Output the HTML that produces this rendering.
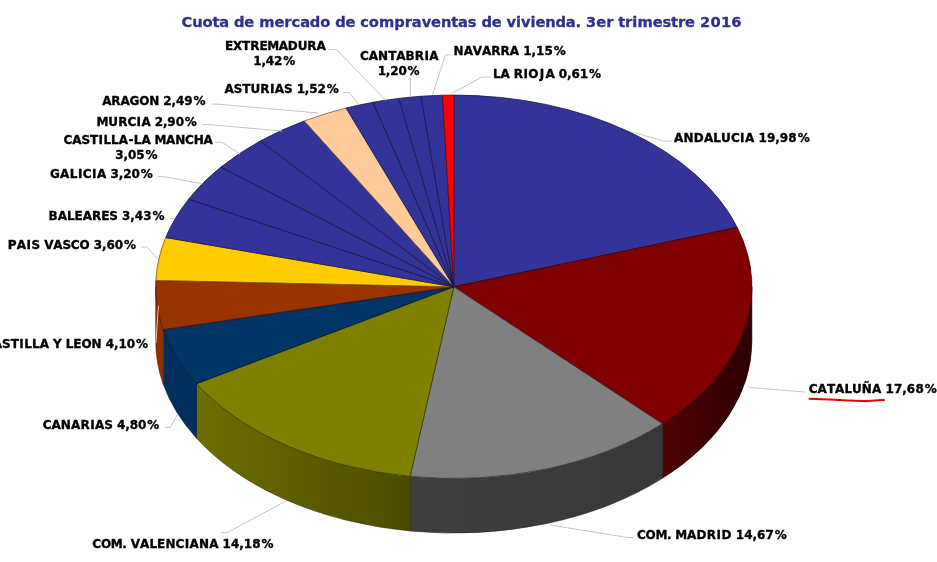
<!DOCTYPE html>
<html lang="es"><head><meta charset="utf-8"><title>Cuota de mercado de compraventas de vivienda</title>
<style>
html,body{margin:0;padding:0;background:#fff;}
body{width:937px;height:562px;overflow:hidden;}
svg{display:block;}
svg text{font-family:"DejaVu Sans","Liberation Sans",sans-serif;font-weight:bold;font-size:12px;fill:#000;stroke:#000;stroke-width:0.35px;}
svg text.ttl{font-size:14.67px;fill:#2f2f92;stroke:#2f2f92;stroke-width:0.3px;}
</style></head><body>
<svg width="937" height="562" viewBox="0 0 937 562">
<defs>
<linearGradient id="g1" gradientUnits="userSpaceOnUse" x1="662.4" y1="0" x2="751.9" y2="0"><stop offset="0" stop-color="#500000"/><stop offset="1" stop-color="#2c0000"/></linearGradient>
<linearGradient id="g2" gradientUnits="userSpaceOnUse" x1="410.1" y1="0" x2="662.4" y2="0"><stop offset="0" stop-color="#3f3f3f"/><stop offset="1" stop-color="#383838"/></linearGradient>
<linearGradient id="g3" gradientUnits="userSpaceOnUse" x1="196.5" y1="0" x2="410.1" y2="0"><stop offset="0" stop-color="#6e6e00"/><stop offset="1" stop-color="#4b4b00"/></linearGradient>
<linearGradient id="g4" gradientUnits="userSpaceOnUse" x1="163.3" y1="0" x2="196.5" y2="0"><stop offset="0" stop-color="#002f5c"/><stop offset="1" stop-color="#00305f"/></linearGradient>
<linearGradient id="g5" gradientUnits="userSpaceOnUse" x1="155.7" y1="0" x2="163.3" y2="0"><stop offset="0" stop-color="#8c2f00"/><stop offset="1" stop-color="#8f3000"/></linearGradient>
</defs>
<rect width="937" height="562" fill="#fff"/>
<path d="M751.90,286.80 A298.1,191.7 0 0 1 662.36,423.77 L662.36,478.37 A298.1,191.7 0 0 0 751.90,341.40 Z" fill="url(#g1)" stroke="#1e0000" stroke-width="0.6" stroke-linejoin="round"/>
<path d="M662.36,423.77 A298.1,191.7 0 0 1 410.09,476.43 L410.09,531.03 A298.1,191.7 0 0 0 662.36,478.37 Z" fill="url(#g2)" stroke="#272727" stroke-width="0.6" stroke-linejoin="round"/>
<path d="M410.09,476.43 A298.1,191.7 0 0 1 196.52,383.63 L196.52,438.23 A298.1,191.7 0 0 0 410.09,531.03 Z" fill="url(#g3)" stroke="#343400" stroke-width="0.6" stroke-linejoin="round"/>
<path d="M196.52,383.63 A298.1,191.7 0 0 1 163.25,329.68 L163.25,384.28 A298.1,191.7 0 0 0 196.52,438.23 Z" fill="url(#g4)" stroke="#002142" stroke-width="0.6" stroke-linejoin="round"/>
<path d="M163.25,329.68 A298.1,191.7 0 0 1 155.70,286.80 L155.70,341.40 A298.1,191.7 0 0 0 163.25,384.28 Z" fill="url(#g5)" stroke="#642100" stroke-width="0.6" stroke-linejoin="round"/>
<path d="M453.8,286.8 L453.80,95.10 A298.1,191.7 0 0 1 737.22,227.38 Z" fill="#333399" stroke="#161644" stroke-width="0.8" stroke-linejoin="round"/>
<path d="M453.8,286.8 L737.22,227.38 A298.1,191.7 0 0 1 662.36,423.77 Z" fill="#800000" stroke="#390000" stroke-width="0.8" stroke-linejoin="round"/>
<path d="M453.8,286.8 L662.36,423.77 A298.1,191.7 0 0 1 410.09,476.43 Z" fill="#808080" stroke="#393939" stroke-width="0.8" stroke-linejoin="round"/>
<path d="M453.8,286.8 L410.09,476.43 A298.1,191.7 0 0 1 196.52,383.63 Z" fill="#808000" stroke="#393900" stroke-width="0.8" stroke-linejoin="round"/>
<path d="M453.8,286.8 L196.52,383.63 A298.1,191.7 0 0 1 163.25,329.68 Z" fill="#003366" stroke="#00162d" stroke-width="0.8" stroke-linejoin="round"/>
<path d="M453.8,286.8 L163.25,329.68 A298.1,191.7 0 0 1 155.87,280.39 Z" fill="#993300" stroke="#441600" stroke-width="0.8" stroke-linejoin="round"/>
<path d="M453.8,286.8 L155.87,280.39 A298.1,191.7 0 0 1 165.71,237.54 Z" fill="#FFCC00" stroke="#725b00" stroke-width="0.8" stroke-linejoin="round"/>
<path d="M453.8,286.8 L165.71,237.54 A298.1,191.7 0 0 1 188.64,199.20 Z" fill="#333399" stroke="#161644" stroke-width="0.8" stroke-linejoin="round"/>
<path d="M453.8,286.8 L188.64,199.20 A298.1,191.7 0 0 1 220.94,167.11 Z" fill="#333399" stroke="#161644" stroke-width="0.8" stroke-linejoin="round"/>
<path d="M453.8,286.8 L220.94,167.11 A298.1,191.7 0 0 1 260.33,140.96 Z" fill="#333399" stroke="#161644" stroke-width="0.8" stroke-linejoin="round"/>
<path d="M453.8,286.8 L260.33,140.96 A298.1,191.7 0 0 1 304.33,120.94 Z" fill="#333399" stroke="#161644" stroke-width="0.8" stroke-linejoin="round"/>
<path d="M453.8,286.8 L304.33,120.94 A298.1,191.7 0 0 1 346.14,108.04 Z" fill="#FFCC99" stroke="#725b44" stroke-width="0.8" stroke-linejoin="round"/>
<path d="M453.8,286.8 L346.14,108.04 A298.1,191.7 0 0 1 373.04,102.27 Z" fill="#333399" stroke="#161644" stroke-width="0.8" stroke-linejoin="round"/>
<path d="M453.8,286.8 L373.04,102.27 A298.1,191.7 0 0 1 398.86,98.38 Z" fill="#333399" stroke="#161644" stroke-width="0.8" stroke-linejoin="round"/>
<path d="M453.8,286.8 L398.86,98.38 A298.1,191.7 0 0 1 421.04,96.26 Z" fill="#333399" stroke="#161644" stroke-width="0.8" stroke-linejoin="round"/>
<path d="M453.8,286.8 L421.04,96.26 A298.1,191.7 0 0 1 442.48,95.24 Z" fill="#333399" stroke="#161644" stroke-width="0.8" stroke-linejoin="round"/>
<path d="M453.8,286.8 L442.48,95.24 A298.1,191.7 0 0 1 453.80,95.10 Z" fill="#FF0000" stroke="#720000" stroke-width="0.8" stroke-linejoin="round"/>
<polyline points="671.5,141.1 664,141.1 632,132" fill="none" stroke="#c4c4c4" stroke-width="1"/>
<polyline points="550.4,525 627.2,537.5 633.2,537.5" fill="none" stroke="#c4c4c4" stroke-width="1"/>
<polyline points="285.4,501.3 227.3,532.6 221.2,532.6" fill="none" stroke="#c4c4c4" stroke-width="1"/>
<polyline points="748.3,387.4 805,392" fill="none" stroke="#c4c4c4" stroke-width="1"/>
<polyline points="410.3,77.8 410.3,96.6" fill="none" stroke="#c4c4c4" stroke-width="1"/>
<polyline points="451.2,55 445.4,55 432.5,94.9" fill="none" stroke="#c4c4c4" stroke-width="1"/>
<polyline points="490.5,77 482,77 452.3,93.2" fill="none" stroke="#c4c4c4" stroke-width="1"/>
<polyline points="328,49.6 336.6,49.6 385.7,100.4" fill="none" stroke="#c4c4c4" stroke-width="1"/>
<polyline points="343.4,92.5 349.4,92.5 359,104.7" fill="none" stroke="#c4c4c4" stroke-width="1"/>
<polyline points="211.5,104 218,104.2 318.2,113" fill="none" stroke="#c4c4c4" stroke-width="1"/>
<polyline points="201.9,124.6 209,124.6 282,131" fill="none" stroke="#c4c4c4" stroke-width="1"/>
<polyline points="215.1,142.3 222.2,142.3 239.9,154" fill="none" stroke="#c4c4c4" stroke-width="1"/>
<polyline points="158.1,176.5 165,176.9 203,183.9" fill="none" stroke="#c4c4c4" stroke-width="1"/>
<polyline points="169.8,218.5 175.2,218.5" fill="none" stroke="#c4c4c4" stroke-width="1"/>
<polyline points="141.4,247 146.7,247 158.3,259.4" fill="none" stroke="#c4c4c4" stroke-width="1"/>
<polyline points="164.9,427.4 170.3,427.4 177.2,415" fill="none" stroke="#c4c4c4" stroke-width="1"/>
<polyline points="158.4,305.6 155.9,343" fill="none" stroke="#e8c8b8" stroke-width="1"/>
<text y="141.8"><tspan x="674.07 683.56 693.78 703.88 713.30 721.07 730.88 740.09 745.03">ANDALUCIA</tspan> <tspan x="758.55 767.05 775.35 779.87 788.37 797.63">19,98%</tspan></text>
<text y="393.0"><tspan x="808.84 817.60 826.90 835.10 844.40 852.04 861.85 871.97">CATALUÑA</tspan> <tspan x="885.46 893.99 902.32 906.86 915.39 924.67">17,68%</tspan></text>
<text y="538.5"><tspan x="636.91 645.59 655.43 666.92">COM.</tspan> <tspan x="675.23 687.08 696.57 706.79 716.58 721.53">MADRID</tspan> <tspan x="735.71 744.18 752.47 756.96 765.43 774.68">14,67%</tspan></text>
<text y="547.8"><tspan x="92.30 100.97 110.79 122.26">COM.</tspan> <tspan x="130.73 140.02 149.39 157.10 165.42 175.52 184.68 189.57 198.99 209.16">VALENCIANA</tspan> <tspan x="222.60 231.06 239.33 243.81 252.27 261.51">14,18%</tspan></text>
<text y="428.7"><tspan x="42.67 51.48 60.87 71.03 80.45 90.15 95.02 104.31">CANARIAS</tspan> <tspan x="116.99 125.22 129.67 138.08 147.30">4,80%</tspan></text>
<text y="347.5"><tspan x="-16.11 -7.28 2.03 10.69 19.29 24.18 31.91 39.64">CASTILLA</tspan> <tspan x="53.06">Y</tspan> <tspan x="65.78 73.33 81.41 91.55">LEON</tspan> <tspan x="105.69 113.94 118.40 126.83 136.06">4,10%</tspan></text>
<text y="248.9"><tspan x="7.65 16.77 26.59 31.53">PAIS</tspan> <tspan x="44.20 53.32 62.45 70.86 79.49">VASCO</tspan> <tspan x="93.71 101.96 106.42 114.84 124.07">3,60%</tspan></text>
<text y="219.8"><tspan x="48.57 57.66 66.91 74.50 82.64 91.95 101.21 109.29">BALEARES</tspan> <tspan x="121.97 130.26 134.75 143.23 152.48">3,43%</tspan></text>
<text y="177.5"><tspan x="49.99 60.10 69.72 77.89 82.81 92.07 97.06">GALICIA</tspan> <tspan x="110.53 118.73 123.14 131.49 140.69">3,20%</tspan></text>
<text y="144.3"><tspan x="63.44 72.19 81.42 90.00 98.55 103.39 111.05 118.70 128.40 133.80 141.45">CASTILLA-LA</tspan> <tspan x="154.42 165.93 175.15 185.05 193.66 203.57">MANCHA</tspan></text>
<text y="159.2"><tspan x="115.31 123.51 127.92 136.28 145.48">3,05%</tspan></text>
<text y="125.6"><tspan x="96.61 108.28 118.13 127.43 136.55 141.40">MURCIA</tspan> <tspan x="154.72 162.90 167.29 175.63 184.82">2,90%</tspan></text>
<text y="104.7"><tspan x="102.13 111.34 120.49 129.57 139.18 149.26">ARAGON</tspan> <tspan x="163.32 171.54 175.96 184.34 193.55">2,49%</tspan></text>
<text y="92.5"><tspan x="224.51 233.74 242.33 250.51 260.31 269.97 274.79 284.03">ASTURIAS</tspan> <tspan x="296.63 304.83 309.23 317.59 326.79">1,52%</tspan></text>
<text y="49.6"><tspan x="224.94 232.98 242.07 250.20 259.39 267.17 278.70 287.86 297.69 307.37 316.56">EXTREMADURA</tspan></text>
<text y="64.6"><tspan x="253.35 261.46 265.79 274.04 283.18">1,42%</tspan></text>
<text y="60"><tspan x="359.94 368.69 378.03 388.13 396.32 405.61 414.81 424.48 429.31">CANTABRIA</tspan></text>
<text y="75.1"><tspan x="377.75 385.86 390.19 398.44 407.58">1,20%</tspan></text>
<text y="54.9"><tspan x="453.62 463.66 472.82 481.99 491.28 500.59 509.84">NAVARRA</tspan> <tspan x="523.23 531.50 535.99 544.45 553.70">1,15%</tspan></text>
<text y="77.6"><tspan x="493.01 500.48">LA</tspan> <tspan x="513.80 523.51 528.36 539.78 545.48">RIOJA</tspan> <tspan x="558.83 567.01 571.40 579.74 588.92">0,61%</tspan></text>
<text y="26.8" class="ttl"><tspan x="181.52 192.19 202.62 212.52 219.30">Cuota</tspan> <tspan x="234.02 244.27">de</tspan> <tspan x="259.22 274.49 284.35 291.56 300.15 309.86 320.22">mercado</tspan> <tspan x="335.16 345.42">de</tspan> <tspan x="360.22 368.86 379.03 394.29 404.68 411.87 421.69 431.12 440.94 451.21 458.00 467.81">compraventas</tspan> <tspan x="481.39 491.65">de</tspan> <tspan x="506.47 516.00 520.99 530.52 535.43 545.25 555.56 565.86 575.56">vivienda.</tspan> <tspan x="586.10 596.30 606.15">3er</tspan> <tspan x="618.25 625.12 632.36 637.48 652.76 662.57 671.11 677.97 685.12">trimestre</tspan> <tspan x="700.06 710.47 720.88 731.29">2016</tspan></text>
<path d="M809.5,398.7 C830,399 850,401 866,401 C875,401 880,400 884,400" fill="none" stroke="#e60000" stroke-width="2" stroke-linecap="round"/>
</svg>
</body></html>
